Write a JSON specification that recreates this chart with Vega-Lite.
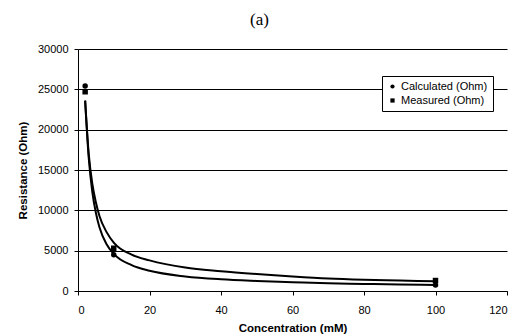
{
  "$schema": "https://vega.github.io/schema/vega-lite/v6.json",
  "width": 429,
  "height": 242,
  "autosize": {"type": "none"},
  "padding": {"left": 78, "top": 49, "right": 12, "bottom": 44},
  "background": "white",
  "title": {
    "text": "(a)",
    "font": "Liberation Serif",
    "fontSize": 17,
    "fontWeight": "normal",
    "color": "black",
    "anchor": "middle",
    "dx": -33,
    "offset": 14
  },
  "config": {
    "view": {"stroke": null},
    "axis": {
      "labelFont": "Liberation Sans",
      "titleFont": "Liberation Sans",
      "labelColor": "black",
      "titleColor": "black",
      "domainColor": "black",
      "tickColor": "black",
      "labelFontSize": 11,
      "titleFontSize": 11.5,
      "titleFontWeight": "bold"
    }
  },
  "datasets": {
    "points": [
      {"conc": 2, "resistance": 25400, "series": "Calculated (Ohm)"},
      {"conc": 10, "resistance": 4500, "series": "Calculated (Ohm)"},
      {"conc": 100, "resistance": 750, "series": "Calculated (Ohm)"},
      {"conc": 2, "resistance": 24700, "series": "Measured (Ohm)"},
      {"conc": 10, "resistance": 5300, "series": "Measured (Ohm)"},
      {"conc": 100, "resistance": 1300, "series": "Measured (Ohm)"}
    ],
    "curves": [
      {"conc": 2, "resistance": 23600, "series": "Measured (Ohm)"},
      {"conc": 3, "resistance": 17000, "series": "Measured (Ohm)"},
      {"conc": 4, "resistance": 13300, "series": "Measured (Ohm)"},
      {"conc": 5, "resistance": 11000, "series": "Measured (Ohm)"},
      {"conc": 6, "resistance": 9300, "series": "Measured (Ohm)"},
      {"conc": 8, "resistance": 7300, "series": "Measured (Ohm)"},
      {"conc": 10, "resistance": 6000, "series": "Measured (Ohm)"},
      {"conc": 15, "resistance": 4500, "series": "Measured (Ohm)"},
      {"conc": 20, "resistance": 3800, "series": "Measured (Ohm)"},
      {"conc": 30, "resistance": 2900, "series": "Measured (Ohm)"},
      {"conc": 40, "resistance": 2450, "series": "Measured (Ohm)"},
      {"conc": 50, "resistance": 2100, "series": "Measured (Ohm)"},
      {"conc": 60, "resistance": 1800, "series": "Measured (Ohm)"},
      {"conc": 70, "resistance": 1550, "series": "Measured (Ohm)"},
      {"conc": 80, "resistance": 1400, "series": "Measured (Ohm)"},
      {"conc": 90, "resistance": 1300, "series": "Measured (Ohm)"},
      {"conc": 100, "resistance": 1200, "series": "Measured (Ohm)"},
      {"conc": 2, "resistance": 23600, "series": "Calculated (Ohm)"},
      {"conc": 3, "resistance": 16500, "series": "Calculated (Ohm)"},
      {"conc": 4, "resistance": 12300, "series": "Calculated (Ohm)"},
      {"conc": 5, "resistance": 9700, "series": "Calculated (Ohm)"},
      {"conc": 6, "resistance": 7900, "series": "Calculated (Ohm)"},
      {"conc": 8, "resistance": 5800, "series": "Calculated (Ohm)"},
      {"conc": 10, "resistance": 4600, "series": "Calculated (Ohm)"},
      {"conc": 15, "resistance": 3200, "series": "Calculated (Ohm)"},
      {"conc": 20, "resistance": 2500, "series": "Calculated (Ohm)"},
      {"conc": 30, "resistance": 1800, "series": "Calculated (Ohm)"},
      {"conc": 40, "resistance": 1450, "series": "Calculated (Ohm)"},
      {"conc": 50, "resistance": 1250, "series": "Calculated (Ohm)"},
      {"conc": 60, "resistance": 1100, "series": "Calculated (Ohm)"},
      {"conc": 70, "resistance": 950, "series": "Calculated (Ohm)"},
      {"conc": 80, "resistance": 880, "series": "Calculated (Ohm)"},
      {"conc": 90, "resistance": 800, "series": "Calculated (Ohm)"},
      {"conc": 100, "resistance": 750, "series": "Calculated (Ohm)"}
    ]
  },
  "encoding": {
    "x": {
      "field": "conc",
      "type": "quantitative",
      "scale": {"domain": [0, 120], "nice": false},
      "axis": {
        "title": "Concentration (mM)",
        "values": [0, 20, 40, 60, 80, 100, 120],
        "grid": false,
        "tickSize": 4,
        "labelPadding": 9,
        "titlePadding": 7
      }
    },
    "y": {
      "field": "resistance",
      "type": "quantitative",
      "scale": {"domain": [0, 30000], "nice": false},
      "axis": {
        "title": "Resistance (Ohm)",
        "format": "d",
        "values": [0, 5000, 10000, 15000, 20000, 25000, 30000],
        "grid": true,
        "gridColor": "black",
        "gridWidth": 1,
        "gridOpacity": 1,
        "tickSize": 4,
        "labelPadding": 6,
        "titlePadding": 9
      }
    }
  },
  "layer": [
    {
      "data": {"name": "curves"},
      "mark": {"type": "line", "color": "black", "strokeWidth": 2, "interpolate": "monotone"},
      "encoding": {"detail": {"field": "series"}}
    },
    {
      "data": {"name": "points"},
      "mark": {"type": "point", "filled": true, "color": "black", "opacity": 1, "size": 30},
      "encoding": {
        "shape": {
          "field": "series",
          "type": "nominal",
          "scale": {"domain": ["Calculated (Ohm)", "Measured (Ohm)"], "range": ["circle", "square"]},
          "legend": {
            "title": null,
            "orient": "none",
            "legendX": 304,
            "legendY": 27,
            "strokeColor": "black",
            "fillColor": "white",
            "padding": 5,
            "labelFont": "Liberation Sans",
            "labelFontSize": 11,
            "labelColor": "black",
            "symbolSize": 18,
            "symbolFillColor": "black",
            "symbolStrokeColor": "black",
            "rowPadding": 2,
            "labelOffset": 3
          }
        }
      }
    }
  ]
}
